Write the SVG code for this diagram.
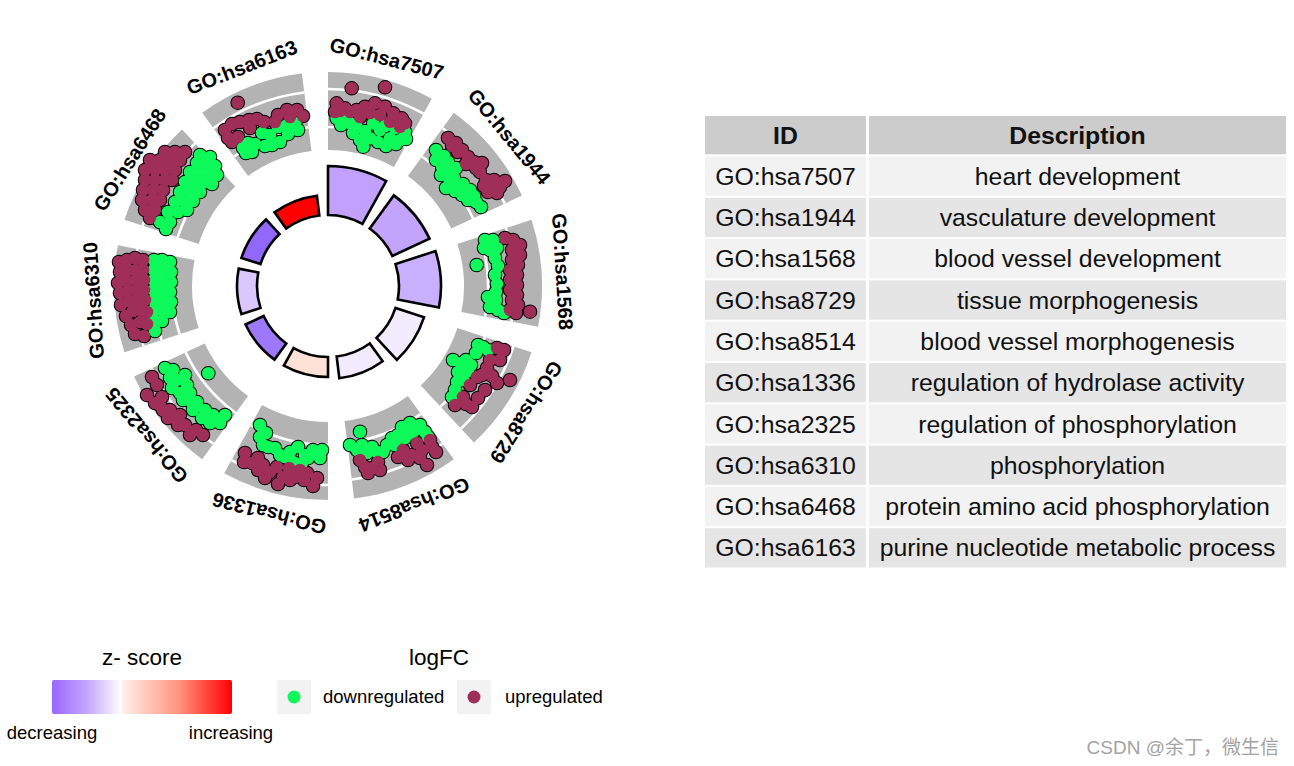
<svg xmlns="http://www.w3.org/2000/svg" width="1294" height="766" viewBox="0 0 1294 766">
<style>
.bar{stroke:#000;stroke-width:2.6;stroke-linejoin:miter}
.wl{fill:none;stroke:#fff;stroke-width:2.6}
.lab{font-family:"Liberation Sans",Arial,sans-serif;font-weight:bold;font-size:20px;fill:#000;text-anchor:middle}
.tb{font-family:"Liberation Sans",Arial,sans-serif;font-size:24.8px;fill:#111;text-anchor:middle}
.th{font-family:"Liberation Sans",Arial,sans-serif;font-size:24.8px;font-weight:bold;fill:#111;text-anchor:middle}
.lt{font-family:"Liberation Sans",Arial,sans-serif;font-size:22.5px;fill:#000;text-anchor:middle}
.ll{font-family:"Liberation Sans",Arial,sans-serif;font-size:18.5px;fill:#000}
.r1{fill:#F2F2F2}.r2{fill:#E5E5E5}.hd{fill:#CCCCCC}
</style>
<defs>
<path id="band" fill="#B3B3B3" d="M328,72 A214,214 0 0 1 431.75,98.83 L393.93,167.05 A136,136 0 0 0 328,150 Z"/>
<linearGradient id="zg" x1="0" x2="1" y1="0" y2="0">
<stop offset="0" stop-color="#9966FF"/>
<stop offset="0.2" stop-color="#C4A8FF"/>
<stop offset="0.385" stop-color="#FFFFFF"/>
<stop offset="0.39" stop-color="#FFF0EB"/>
<stop offset="0.7" stop-color="#FF9580"/>
<stop offset="1" stop-color="#FF0000"/>
</linearGradient>
<g id="ptsD">
<circle cx="336.7" cy="118.3" r="6.3"/><circle cx="346.7" cy="120" r="6.3"/><circle cx="350" cy="123.3" r="6.3"/><circle cx="356.7" cy="126.7" r="6.3"/><circle cx="360" cy="140" r="6.3"/><circle cx="363.3" cy="146.7" r="6.3"/><circle cx="370" cy="138.3" r="6.3"/><circle cx="373.3" cy="123.3" r="6.3"/><circle cx="380" cy="130" r="6.3"/><circle cx="390" cy="138.3" r="6.3"/><circle cx="400" cy="140" r="6.3"/><circle cx="405" cy="131.7" r="6.3"/><circle cx="341" cy="125" r="6.3"/><circle cx="365" cy="131" r="6.3"/><circle cx="385" cy="126" r="6.3"/><circle cx="395" cy="128" r="6.3"/><circle cx="378" cy="142" r="6.3"/><circle cx="396" cy="144" r="6.3"/><circle cx="353" cy="133" r="6.3"/><circle cx="386" cy="146" r="6.3"/><circle cx="406" cy="139" r="6.3"/>
<circle cx="436" cy="150" r="6.3"/><circle cx="436" cy="160" r="6.3"/><circle cx="442" cy="167" r="6.3"/><circle cx="448" cy="172" r="6.3"/><circle cx="454" cy="178" r="6.3"/><circle cx="446" cy="188" r="6.3"/><circle cx="455" cy="191" r="6.3"/><circle cx="462" cy="195" r="6.3"/><circle cx="468" cy="200" r="6.3"/><circle cx="476" cy="202" r="6.3"/><circle cx="481" cy="207" r="6.3"/><circle cx="463" cy="184" r="6.3"/><circle cx="470" cy="190" r="6.3"/><circle cx="456" cy="168" r="6.3"/><circle cx="444" cy="156" r="6.3"/><circle cx="450" cy="182" r="6.3"/><circle cx="459" cy="186" r="6.3"/><circle cx="441" cy="175" r="6.3"/><circle cx="474" cy="196" r="6.3"/><circle cx="448" cy="162" r="6.3"/>
<circle cx="476.7" cy="265" r="6.3"/><circle cx="485" cy="240" r="6.3"/><circle cx="493" cy="240" r="6.3"/><circle cx="497" cy="248" r="6.3"/><circle cx="490" cy="250" r="6.3"/><circle cx="495" cy="258" r="6.3"/><circle cx="498" cy="266" r="6.3"/><circle cx="495" cy="275" r="6.3"/><circle cx="497" cy="284" r="6.3"/><circle cx="496" cy="292" r="6.3"/><circle cx="488" cy="297" r="6.3"/><circle cx="496" cy="300" r="6.3"/><circle cx="490" cy="307" r="6.3"/><circle cx="498" cy="310" r="6.3"/><circle cx="504" cy="313" r="6.3"/><circle cx="484" cy="248" r="6.3"/>
<circle cx="453" cy="360" r="6.3"/><circle cx="461" cy="363" r="6.3"/><circle cx="468" cy="371" r="6.3"/><circle cx="476" cy="353" r="6.3"/><circle cx="483" cy="347" r="6.3"/><circle cx="478" cy="345" r="6.3"/><circle cx="463" cy="380" r="6.3"/><circle cx="455" cy="390" r="6.3"/><circle cx="452" cy="397" r="6.3"/><circle cx="471" cy="365" r="6.3"/><circle cx="488" cy="350" r="6.3"/><circle cx="458" cy="372" r="6.3"/><circle cx="466" cy="360" r="6.3"/><circle cx="457" cy="382" r="6.3"/>
<circle cx="360" cy="431.7" r="6.3"/><circle cx="350" cy="445" r="6.3"/><circle cx="357" cy="450" r="6.3"/><circle cx="367" cy="453" r="6.3"/><circle cx="377" cy="452" r="6.3"/><circle cx="372" cy="447" r="6.3"/><circle cx="387" cy="445" r="6.3"/><circle cx="395" cy="445" r="6.3"/><circle cx="398" cy="435" r="6.3"/><circle cx="402" cy="427" r="6.3"/><circle cx="410" cy="423" r="6.3"/><circle cx="420" cy="425" r="6.3"/><circle cx="425" cy="432" r="6.3"/><circle cx="405" cy="438" r="6.3"/><circle cx="415" cy="430" r="6.3"/><circle cx="362" cy="445" r="6.3"/><circle cx="383" cy="452" r="6.3"/><circle cx="392" cy="438" r="6.3"/><circle cx="412" cy="433" r="6.3"/><circle cx="428" cy="437" r="6.3"/>
<circle cx="260" cy="425" r="6.3"/><circle cx="260" cy="437" r="6.3"/><circle cx="263" cy="445" r="6.3"/><circle cx="268" cy="447" r="6.3"/><circle cx="275" cy="448" r="6.3"/><circle cx="285" cy="457" r="6.3"/><circle cx="290" cy="452" r="6.3"/><circle cx="293" cy="462" r="6.3"/><circle cx="302" cy="463" r="6.3"/><circle cx="305" cy="455" r="6.3"/><circle cx="313" cy="450" r="6.3"/><circle cx="320" cy="458" r="6.3"/><circle cx="322" cy="450" r="6.3"/><circle cx="298" cy="447" r="6.3"/><circle cx="308" cy="458" r="6.3"/><circle cx="280" cy="455" r="6.3"/><circle cx="266" cy="433" r="6.3"/>
<circle cx="165" cy="368" r="6.3"/><circle cx="173" cy="370" r="6.3"/><circle cx="177" cy="380" r="6.3"/><circle cx="185" cy="375" r="6.3"/><circle cx="187" cy="385" r="6.3"/><circle cx="180" cy="393" r="6.3"/><circle cx="190" cy="393" r="6.3"/><circle cx="197" cy="402" r="6.3"/><circle cx="193" cy="410" r="6.3"/><circle cx="205" cy="410" r="6.3"/><circle cx="202" cy="418" r="6.3"/><circle cx="210" cy="423" r="6.3"/><circle cx="220" cy="423" r="6.3"/><circle cx="225" cy="415" r="6.3"/><circle cx="208.3" cy="373.3" r="6.3"/><circle cx="170" cy="378" r="6.3"/><circle cx="183" cy="400" r="6.3"/><circle cx="192" cy="403" r="6.3"/><circle cx="213" cy="415" r="6.3"/><circle cx="172" cy="388" r="6.3"/>
<circle cx="154" cy="260" r="6.3"/><circle cx="162" cy="260" r="6.3"/><circle cx="170" cy="262" r="6.3"/><circle cx="154" cy="270" r="6.3"/><circle cx="162" cy="270" r="6.3"/><circle cx="171" cy="272" r="6.3"/><circle cx="154" cy="280" r="6.3"/><circle cx="162" cy="280" r="6.3"/><circle cx="171" cy="282" r="6.3"/><circle cx="154" cy="290" r="6.3"/><circle cx="162" cy="290" r="6.3"/><circle cx="170" cy="292" r="6.3"/><circle cx="154" cy="300" r="6.3"/><circle cx="162" cy="300" r="6.3"/><circle cx="171" cy="302" r="6.3"/><circle cx="154" cy="310" r="6.3"/><circle cx="162" cy="310" r="6.3"/><circle cx="170" cy="312" r="6.3"/><circle cx="154" cy="320" r="6.3"/><circle cx="162" cy="321" r="6.3"/><circle cx="155" cy="331" r="6.3"/>
<circle cx="200" cy="155" r="6.3"/><circle cx="210" cy="157" r="6.3"/><circle cx="197" cy="163" r="6.3"/><circle cx="207" cy="163" r="6.3"/><circle cx="215" cy="166" r="6.3"/><circle cx="190" cy="172" r="6.3"/><circle cx="200" cy="172" r="6.3"/><circle cx="210" cy="172" r="6.3"/><circle cx="217" cy="175" r="6.3"/><circle cx="185" cy="182" r="6.3"/><circle cx="195" cy="182" r="6.3"/><circle cx="205" cy="182" r="6.3"/><circle cx="212" cy="184" r="6.3"/><circle cx="180" cy="192" r="6.3"/><circle cx="190" cy="192" r="6.3"/><circle cx="200" cy="192" r="6.3"/><circle cx="175" cy="202" r="6.3"/><circle cx="185" cy="202" r="6.3"/><circle cx="193" cy="201" r="6.3"/><circle cx="168" cy="212" r="6.3"/><circle cx="178" cy="212" r="6.3"/><circle cx="187" cy="210" r="6.3"/><circle cx="160" cy="222" r="6.3"/><circle cx="170" cy="222" r="6.3"/><circle cx="166" cy="229" r="6.3"/>
<circle cx="243" cy="148" r="6.3"/><circle cx="252" cy="152" r="6.3"/><circle cx="248" cy="143" r="6.3"/><circle cx="255" cy="144" r="6.3"/><circle cx="262" cy="133" r="6.3"/><circle cx="272" cy="145" r="6.3"/><circle cx="270" cy="135" r="6.3"/><circle cx="278" cy="127" r="6.3"/><circle cx="287" cy="125" r="6.3"/><circle cx="295" cy="123" r="6.3"/><circle cx="280" cy="142" r="6.3"/><circle cx="288" cy="134" r="6.3"/><circle cx="298" cy="130" r="6.3"/><circle cx="265" cy="146" r="6.3"/><circle cx="246" cy="153" r="6.3"/>
</g>
<g id="ptsU">
<circle cx="351.7" cy="88.3" r="6.3"/><circle cx="385" cy="87.3" r="6.3"/><circle cx="336.7" cy="103.3" r="6.3"/><circle cx="345" cy="108.3" r="6.3"/><circle cx="356.7" cy="110" r="6.3"/><circle cx="365" cy="106.7" r="6.3"/><circle cx="375" cy="103.3" r="6.3"/><circle cx="385" cy="106.7" r="6.3"/><circle cx="393.3" cy="113.3" r="6.3"/><circle cx="401.7" cy="118.3" r="6.3"/><circle cx="405" cy="123.3" r="6.3"/><circle cx="400" cy="126.7" r="6.3"/><circle cx="390" cy="121.7" r="6.3"/><circle cx="370" cy="113" r="6.3"/><circle cx="380" cy="115" r="6.3"/><circle cx="350" cy="112" r="6.3"/><circle cx="340" cy="111" r="6.3"/><circle cx="335" cy="112" r="6.3"/><circle cx="360" cy="117" r="6.3"/><circle cx="395" cy="118" r="6.3"/>
<circle cx="448" cy="138" r="6.3"/><circle cx="456" cy="143" r="6.3"/><circle cx="462" cy="150" r="6.3"/><circle cx="468" cy="157" r="6.3"/><circle cx="474" cy="162" r="6.3"/><circle cx="482" cy="163" r="6.3"/><circle cx="480" cy="172" r="6.3"/><circle cx="486" cy="180" r="6.3"/><circle cx="492" cy="186" r="6.3"/><circle cx="497" cy="193" r="6.3"/><circle cx="505" cy="181" r="6.3"/><circle cx="488" cy="192" r="6.3"/><circle cx="452" cy="146" r="6.3"/><circle cx="458" cy="152" r="6.3"/><circle cx="466" cy="164" r="6.3"/><circle cx="476" cy="168" r="6.3"/><circle cx="494" cy="180" r="6.3"/><circle cx="500" cy="187" r="6.3"/><circle cx="484" cy="186" r="6.3"/>
<circle cx="505" cy="238" r="6.3"/><circle cx="513" cy="240" r="6.3"/><circle cx="520" cy="245" r="6.3"/><circle cx="512" cy="250" r="6.3"/><circle cx="520" cy="255" r="6.3"/><circle cx="512" cy="260" r="6.3"/><circle cx="518" cy="265" r="6.3"/><circle cx="510" cy="270" r="6.3"/><circle cx="517" cy="275" r="6.3"/><circle cx="510" cy="280" r="6.3"/><circle cx="517" cy="285" r="6.3"/><circle cx="510" cy="290" r="6.3"/><circle cx="517" cy="295" r="6.3"/><circle cx="512" cy="300" r="6.3"/><circle cx="518" cy="305" r="6.3"/><circle cx="510" cy="310" r="6.3"/><circle cx="516" cy="313" r="6.3"/><circle cx="530" cy="311.7" r="6.3"/>
<circle cx="497" cy="348" r="6.3"/><circle cx="504" cy="350" r="6.3"/><circle cx="500" cy="360" r="6.3"/><circle cx="490" cy="360" r="6.3"/><circle cx="487" cy="368" r="6.3"/><circle cx="477" cy="377" r="6.3"/><circle cx="482" cy="375" r="6.3"/><circle cx="492" cy="376" r="6.3"/><circle cx="497" cy="383" r="6.3"/><circle cx="510" cy="380" r="6.3"/><circle cx="470" cy="385" r="6.3"/><circle cx="485" cy="390" r="6.3"/><circle cx="478" cy="398" r="6.3"/><circle cx="463" cy="397" r="6.3"/><circle cx="455" cy="405" r="6.3"/><circle cx="472" cy="407" r="6.3"/><circle cx="466" cy="404" r="6.3"/>
<circle cx="365" cy="467" r="6.3"/><circle cx="373" cy="468" r="6.3"/><circle cx="368" cy="473" r="6.3"/><circle cx="378" cy="462" r="6.3"/><circle cx="360" cy="460" r="6.3"/><circle cx="380" cy="470" r="6.3"/><circle cx="398" cy="457" r="6.3"/><circle cx="403" cy="450" r="6.3"/><circle cx="412" cy="455" r="6.3"/><circle cx="408" cy="460" r="6.3"/><circle cx="420" cy="458" r="6.3"/><circle cx="422" cy="450" r="6.3"/><circle cx="417" cy="443" r="6.3"/><circle cx="430" cy="440" r="6.3"/><circle cx="432" cy="447" r="6.3"/><circle cx="436" cy="452" r="6.3"/><circle cx="427" cy="465" r="6.3"/>
<circle cx="245" cy="453" r="6.3"/><circle cx="244" cy="462" r="6.3"/><circle cx="252" cy="463" r="6.3"/><circle cx="258" cy="458" r="6.3"/><circle cx="258" cy="470" r="6.3"/><circle cx="263" cy="465" r="6.3"/><circle cx="265" cy="478" r="6.3"/><circle cx="270" cy="472" r="6.3"/><circle cx="277" cy="467" r="6.3"/><circle cx="283" cy="477" r="6.3"/><circle cx="278" cy="484" r="6.3"/><circle cx="289" cy="468" r="6.3"/><circle cx="290" cy="480" r="6.3"/><circle cx="295" cy="477" r="6.3"/><circle cx="300" cy="470" r="6.3"/><circle cx="304" cy="480" r="6.3"/><circle cx="307" cy="473" r="6.3"/><circle cx="313" cy="486" r="6.3"/><circle cx="317" cy="478" r="6.3"/>
<circle cx="152" cy="377" r="6.3"/><circle cx="157" cy="385" r="6.3"/><circle cx="147" cy="395" r="6.3"/><circle cx="162" cy="397" r="6.3"/><circle cx="155" cy="403" r="6.3"/><circle cx="160" cy="405" r="6.3"/><circle cx="163" cy="410" r="6.3"/><circle cx="170" cy="410" r="6.3"/><circle cx="168" cy="418" r="6.3"/><circle cx="175" cy="418" r="6.3"/><circle cx="180" cy="415" r="6.3"/><circle cx="178" cy="425" r="6.3"/><circle cx="185" cy="425" r="6.3"/><circle cx="190" cy="435" r="6.3"/><circle cx="196" cy="430" r="6.3"/><circle cx="203" cy="435" r="6.3"/>
<circle cx="119" cy="262" r="6.3"/><circle cx="127" cy="260" r="6.3"/><circle cx="135" cy="258" r="6.3"/><circle cx="143" cy="260" r="6.3"/><circle cx="120" cy="272" r="6.3"/><circle cx="128" cy="270" r="6.3"/><circle cx="136" cy="270" r="6.3"/><circle cx="143" cy="270" r="6.3"/><circle cx="118" cy="283" r="6.3"/><circle cx="127" cy="281" r="6.3"/><circle cx="136" cy="280" r="6.3"/><circle cx="144" cy="280" r="6.3"/><circle cx="120" cy="293" r="6.3"/><circle cx="128" cy="291" r="6.3"/><circle cx="136" cy="290" r="6.3"/><circle cx="144" cy="290" r="6.3"/><circle cx="121" cy="305" r="6.3"/><circle cx="129" cy="301" r="6.3"/><circle cx="137" cy="300" r="6.3"/><circle cx="145" cy="300" r="6.3"/><circle cx="126" cy="316" r="6.3"/><circle cx="133" cy="311" r="6.3"/><circle cx="141" cy="310" r="6.3"/><circle cx="147" cy="312" r="6.3"/><circle cx="131" cy="325" r="6.3"/><circle cx="140" cy="322" r="6.3"/><circle cx="147" cy="324" r="6.3"/><circle cx="135" cy="334" r="6.3"/><circle cx="144" cy="336" r="6.3"/>
<circle cx="165" cy="152" r="6.3"/><circle cx="175" cy="152" r="6.3"/><circle cx="185" cy="152" r="6.3"/><circle cx="150" cy="160" r="6.3"/><circle cx="160" cy="160" r="6.3"/><circle cx="170" cy="160" r="6.3"/><circle cx="180" cy="160" r="6.3"/><circle cx="145" cy="170" r="6.3"/><circle cx="155" cy="170" r="6.3"/><circle cx="165" cy="170" r="6.3"/><circle cx="175" cy="170" r="6.3"/><circle cx="145" cy="180" r="6.3"/><circle cx="155" cy="180" r="6.3"/><circle cx="165" cy="180" r="6.3"/><circle cx="172" cy="180" r="6.3"/><circle cx="143" cy="190" r="6.3"/><circle cx="153" cy="190" r="6.3"/><circle cx="163" cy="190" r="6.3"/><circle cx="142" cy="200" r="6.3"/><circle cx="152" cy="200" r="6.3"/><circle cx="160" cy="200" r="6.3"/><circle cx="145" cy="210" r="6.3"/><circle cx="155" cy="210" r="6.3"/><circle cx="150" cy="218" r="6.3"/>
<circle cx="237.7" cy="102.7" r="6.3"/><circle cx="225" cy="130" r="6.3"/><circle cx="232" cy="124" r="6.3"/><circle cx="240" cy="122" r="6.3"/><circle cx="249" cy="120" r="6.3"/><circle cx="257" cy="119" r="6.3"/><circle cx="264" cy="122" r="6.3"/><circle cx="228" cy="138" r="6.3"/><circle cx="238" cy="137" r="6.3"/><circle cx="232" cy="142" r="6.3"/><circle cx="250" cy="128" r="6.3"/><circle cx="278" cy="115" r="6.3"/><circle cx="287" cy="110" r="6.3"/><circle cx="297" cy="110" r="6.3"/><circle cx="303" cy="116" r="6.3"/><circle cx="275" cy="122" r="6.3"/><circle cx="290" cy="117" r="6.3"/>
</g>
</defs>
<rect width="1294" height="766" fill="#fff"/>
<g id="hsa7507">
<use href="#band"/>
<path class="wl" d="M328,127 A159,159 0 0 1 405.08,146.94 M328,89 A197,197 0 0 1 423.51,113.70"/>
<path class="bar" fill="#C1A1FD" d="M328,166 A120,120 0 0 1 386.18,181.05 L362.42,223.90 A71,71 0 0 0 328,215 Z"/>
<text class="lab" x="328" y="58" transform="rotate(14.5 328 286)">GO:hsa7507</text>
</g>
<g id="hsa1944" transform="rotate(36 328 286)">
<use href="#band"/>
<path class="wl" d="M328,126 A160,160 0 0 1 405.57,146.06 M328,91 A195,195 0 0 1 422.54,115.45"/>
<path class="bar" fill="#C2A4FD" d="M328,174 A112,112 0 0 1 382.30,188.04 L362.42,223.90 A71,71 0 0 0 328,215 Z"/>
<text class="lab" x="328" y="58" transform="rotate(14.5 328 286)">GO:hsa1944</text>
</g>
<g id="hsa1568" transform="rotate(72 328 286)">
<use href="#band"/>
<path class="wl" d="M328,126 A160,160 0 0 1 405.57,146.06 M328,99 A187,187 0 0 1 418.66,122.45"/>
<path class="bar" fill="#C9B0FD" d="M328,173 A113,113 0 0 1 382.78,187.17 L362.42,223.90 A71,71 0 0 0 328,215 Z"/>
<text class="lab" x="328" y="58" transform="rotate(14.5 328 286)">GO:hsa1568</text>
</g>
<g id="hsa8729" transform="rotate(108 328 286)">
<use href="#band"/>
<path class="wl" d="M328,121 A165,165 0 0 1 407.99,141.69 M328,91 A195,195 0 0 1 422.54,115.45"/>
<path class="bar" fill="#F3ECFF" d="M328,185 A101,101 0 0 1 376.97,197.66 L362.42,223.90 A71,71 0 0 0 328,215 Z"/>
<text class="lab" x="328" y="58" transform="rotate(14.5 328 286)">GO:hsa8729</text>
</g>
<g id="hsa8514" transform="rotate(144 328 286)">
<use href="#band"/>
<path class="wl" d="M328,128 A158,158 0 0 1 404.60,147.81 M328,91 A195,195 0 0 1 422.54,115.45"/>
<path class="bar" fill="#F2EBFF" d="M328,193 A93,93 0 0 1 373.09,204.66 L362.42,223.90 A71,71 0 0 0 328,215 Z"/>
<text class="lab" x="328" y="58" transform="rotate(14.5 328 286)">GO:hsa8514</text>
</g>
<g id="hsa1336" transform="rotate(180 328 286)">
<use href="#band"/>
<path class="wl" d="M328,127 A159,159 0 0 1 405.08,146.94 M328,87 A199,199 0 0 1 424.48,111.95"/>
<path class="bar" fill="#FDE1D7" d="M328,195 A91,91 0 0 1 372.12,206.41 L362.42,223.90 A71,71 0 0 0 328,215 Z"/>
<text class="lab" x="328" y="58" transform="rotate(14.5 328 286)">GO:hsa1336</text>
</g>
<g id="hsa2325" transform="rotate(216 328 286)">
<use href="#band"/>
<path class="wl" d="M328,129 A157,157 0 0 1 404.12,148.68 M328,91 A195,195 0 0 1 422.54,115.45"/>
<path class="bar" fill="#9C78FB" d="M328,195 A91,91 0 0 1 372.12,206.41 L362.42,223.90 A71,71 0 0 0 328,215 Z"/>
<text class="lab" x="328" y="58" transform="rotate(14.5 328 286)">GO:hsa2325</text>
</g>
<g id="hsa6310" transform="rotate(252 328 286)">
<use href="#band"/>
<path class="wl" d="M328,130 A156,156 0 0 1 403.63,149.56 M328,111 A175,175 0 0 1 412.84,132.94 M328,92 A194,194 0 0 1 422.05,116.32"/>
<path class="bar" fill="#D9C7FD" d="M328,195 A91,91 0 0 1 372.12,206.41 L362.42,223.90 A71,71 0 0 0 328,215 Z"/>
<text class="lab" x="328" y="58" transform="rotate(14.5 328 286)">GO:hsa6310</text>
</g>
<g id="hsa6468" transform="rotate(288 328 286)">
<use href="#band"/>
<path class="wl" d="M328,128 A158,158 0 0 1 404.60,147.81 M328,91 A195,195 0 0 1 422.54,115.45"/>
<path class="bar" fill="#9268FA" d="M328,195 A91,91 0 0 1 372.12,206.41 L362.42,223.90 A71,71 0 0 0 328,215 Z"/>
<text class="lab" x="328" y="58" transform="rotate(14.5 328 286)">GO:hsa6468</text>
</g>
<g id="hsa6163" transform="rotate(324 328 286)">
<use href="#band"/>
<path class="wl" d="M328,126 A160,160 0 0 1 405.57,146.06 M328,91 A195,195 0 0 1 422.54,115.45"/>
<path class="bar" fill="#FF0000" d="M328,195 A91,91 0 0 1 372.12,206.41 L362.42,223.90 A71,71 0 0 0 328,215 Z"/>
<text class="lab" x="328" y="58" transform="rotate(14.5 328 286)">GO:hsa6163</text>
</g>
<g id="points">
<use href="#ptsD" fill="#000" stroke="#000" stroke-width="2"/>
<use href="#ptsU" fill="#000" stroke="#000" stroke-width="2"/>
<use href="#ptsD" fill="#0EFA5A"/>
<use href="#ptsU" fill="#A02F58"/>
</g>
<g id="table">
<g id="header"><rect class="hd" x="705" y="116" width="161" height="38.3"/><rect class="hd" x="869" y="116" width="417" height="38.3"/>
<text class="th" x="785.5" y="143.7">ID</text><text class="th" x="1077.5" y="143.7">Description</text></g>
<g id="row1"><rect class="r1" x="705" y="156.5" width="161" height="39.3"/><rect class="r1" x="869" y="156.5" width="417" height="39.3"/><text class="tb" x="785.5" y="184.7">GO:hsa7507</text><text class="tb" x="1077.5" y="184.7">heart development</text></g>
<g id="row2"><rect class="r2" x="705" y="197.8" width="161" height="39.3"/><rect class="r2" x="869" y="197.8" width="417" height="39.3"/><text class="tb" x="785.5" y="226">GO:hsa1944</text><text class="tb" x="1077.5" y="226">vasculature development</text></g>
<g id="row3"><rect class="r1" x="705" y="239.1" width="161" height="39.3"/><rect class="r1" x="869" y="239.1" width="417" height="39.3"/><text class="tb" x="785.5" y="267.3">GO:hsa1568</text><text class="tb" x="1077.5" y="267.3">blood vessel development</text></g>
<g id="row4"><rect class="r2" x="705" y="280.4" width="161" height="39.3"/><rect class="r2" x="869" y="280.4" width="417" height="39.3"/><text class="tb" x="785.5" y="308.6">GO:hsa8729</text><text class="tb" x="1077.5" y="308.6">tissue morphogenesis</text></g>
<g id="row5"><rect class="r1" x="705" y="321.7" width="161" height="39.3"/><rect class="r1" x="869" y="321.7" width="417" height="39.3"/><text class="tb" x="785.5" y="349.9">GO:hsa8514</text><text class="tb" x="1077.5" y="349.9">blood vessel morphogenesis</text></g>
<g id="row6"><rect class="r2" x="705" y="363" width="161" height="39.3"/><rect class="r2" x="869" y="363" width="417" height="39.3"/><text class="tb" x="785.5" y="391.2">GO:hsa1336</text><text class="tb" x="1077.5" y="391.2">regulation of hydrolase activity</text></g>
<g id="row7"><rect class="r1" x="705" y="404.3" width="161" height="39.3"/><rect class="r1" x="869" y="404.3" width="417" height="39.3"/><text class="tb" x="785.5" y="432.5">GO:hsa2325</text><text class="tb" x="1077.5" y="432.5">regulation of phosphorylation</text></g>
<g id="row8"><rect class="r2" x="705" y="445.6" width="161" height="39.3"/><rect class="r2" x="869" y="445.6" width="417" height="39.3"/><text class="tb" x="785.5" y="473.8">GO:hsa6310</text><text class="tb" x="1077.5" y="473.8">phosphorylation</text></g>
<g id="row9"><rect class="r1" x="705" y="486.9" width="161" height="39.3"/><rect class="r1" x="869" y="486.9" width="417" height="39.3"/><text class="tb" x="785.5" y="515.1">GO:hsa6468</text><text class="tb" x="1077.5" y="515.1">protein amino acid phosphorylation</text></g>
<g id="row10"><rect class="r2" x="705" y="528.2" width="161" height="39.3"/><rect class="r2" x="869" y="528.2" width="417" height="39.3"/><text class="tb" x="785.5" y="556.4">GO:hsa6163</text><text class="tb" x="1077.5" y="556.4">purine nucleotide metabolic process</text></g>
</g>
<g id="legend-z">
<text class="lt" x="142" y="665">z- score</text>
<rect x="52" y="680" width="180" height="34" rx="2" fill="url(#zg)"/>
<text class="ll" x="52" y="739" text-anchor="middle">decreasing</text>
<text class="ll" x="231" y="739" text-anchor="middle">increasing</text>
</g>
<g id="legend-fc">
<text class="lt" x="439" y="665">logFC</text>
<rect x="277" y="680" width="34" height="34" fill="#F2F2F2"/>
<circle cx="294" cy="697" r="6.5" fill="#0EFA5A"/>
<text class="ll" x="323" y="703">downregulated</text>
<rect x="457" y="680" width="34" height="34" fill="#F2F2F2"/>
<circle cx="474" cy="697" r="6.5" fill="#A02F58"/>
<text class="ll" x="505" y="703">upregulated</text>
</g>
<text x="1279" y="754" text-anchor="end" font-family="Liberation Sans, Noto Sans CJK SC, sans-serif" font-size="19" fill="#A3A3A3">CSDN @余丁，微生信</text>
</svg>
